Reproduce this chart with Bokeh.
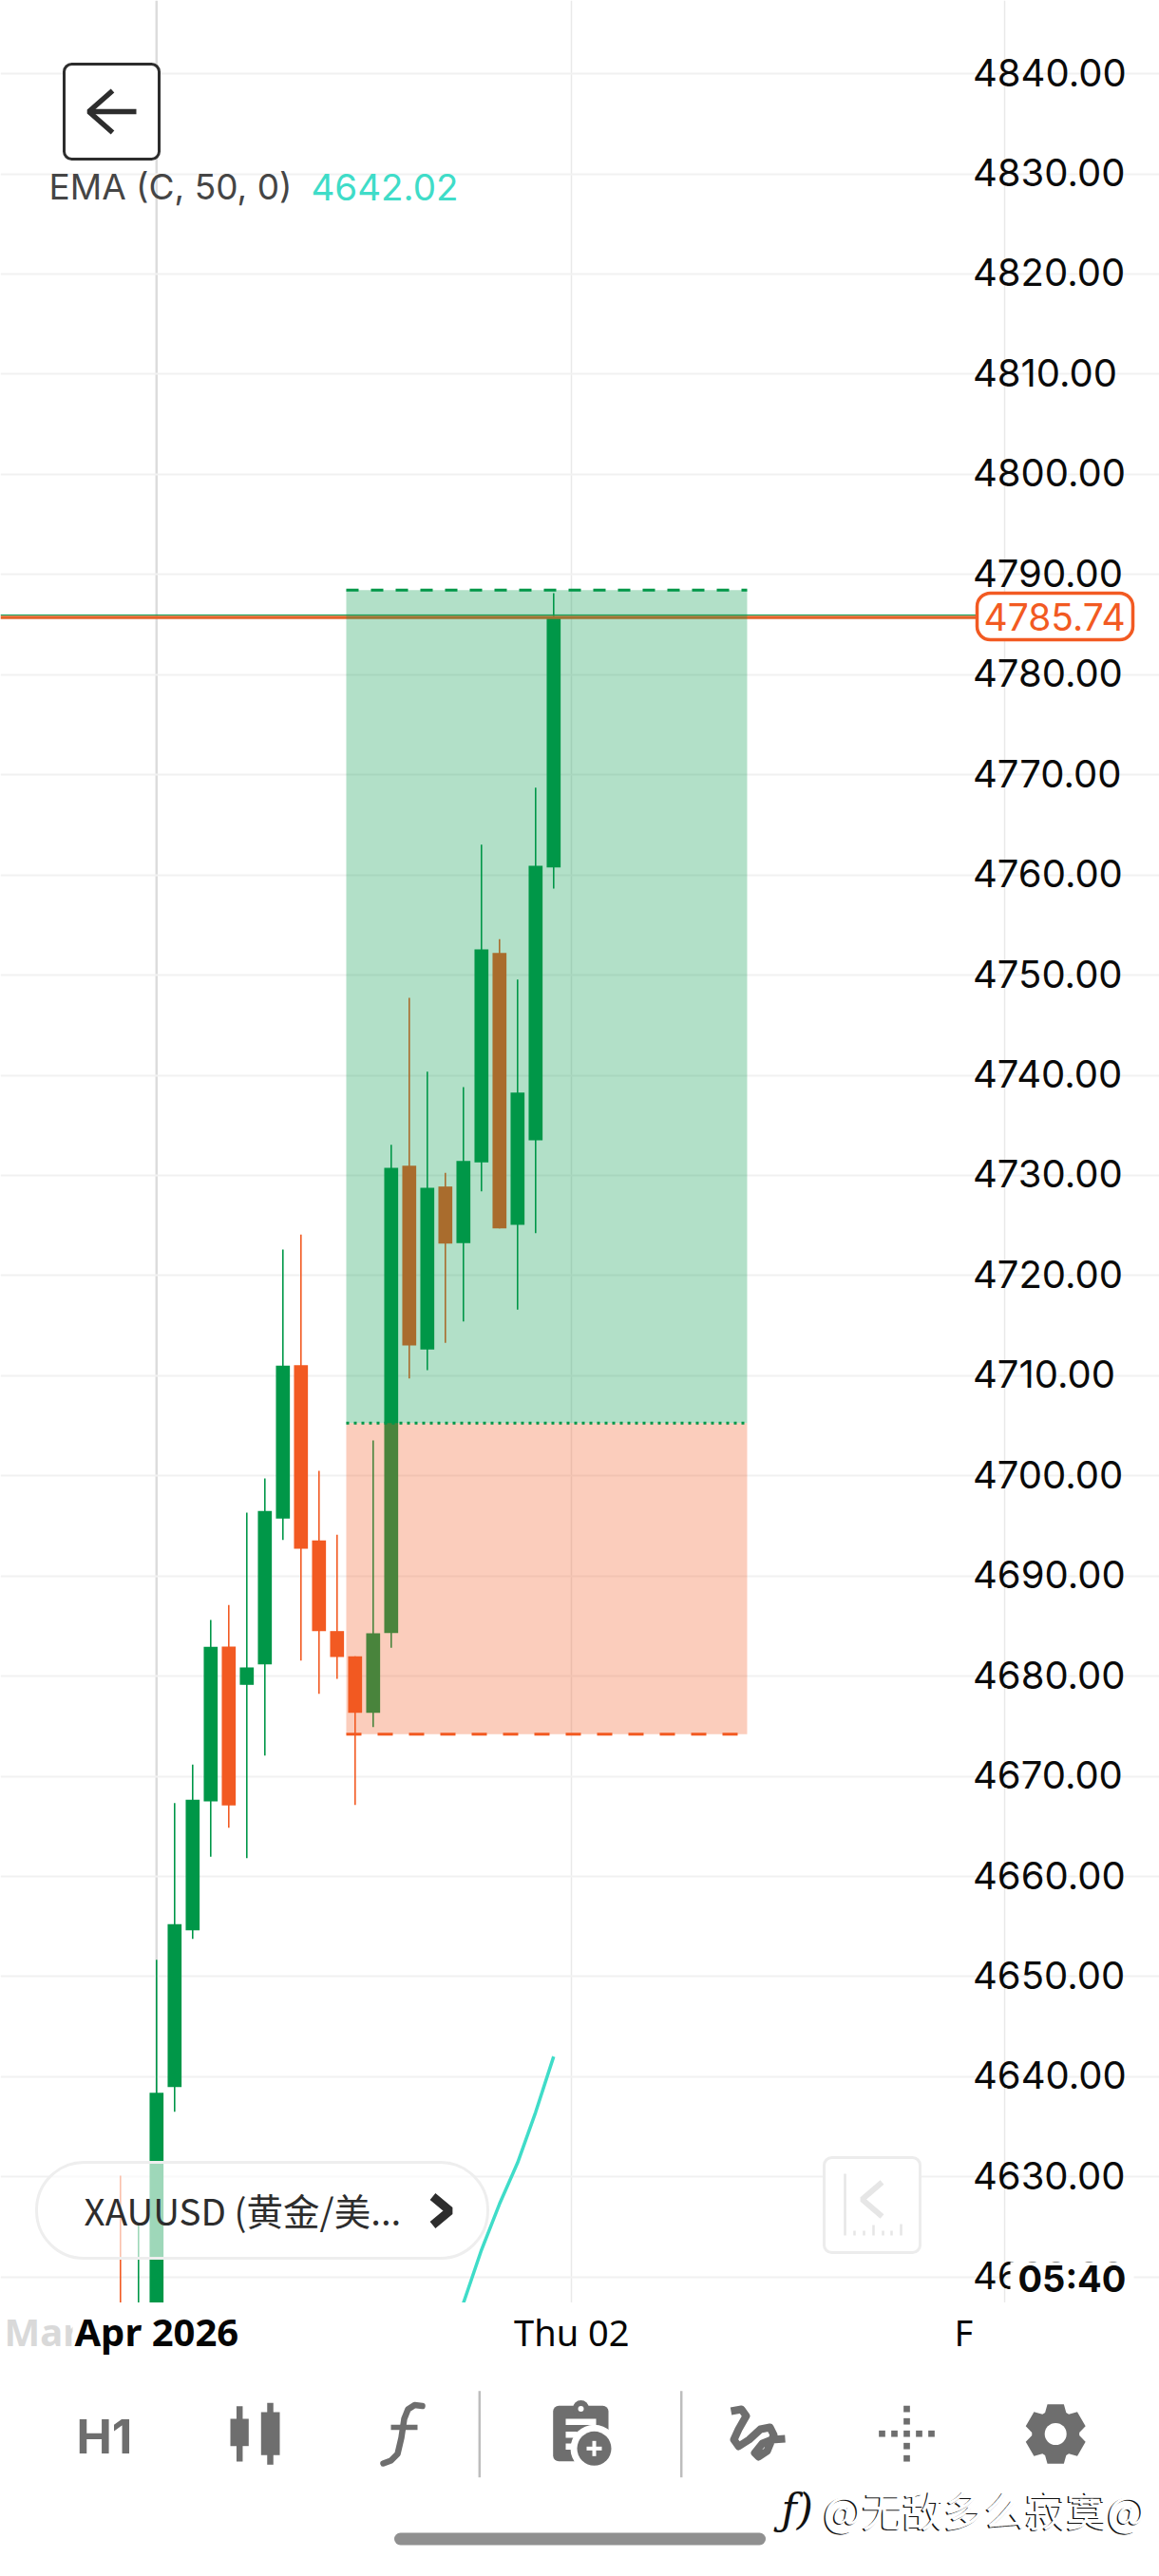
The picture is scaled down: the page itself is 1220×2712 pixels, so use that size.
from math import cos, sin, pi
from bokeh.plotting import figure
from bokeh.layouts import column
from bokeh.models import Range1d, FixedTicker, BoxAnnotation
from bokeh.core.properties import value
from bokeh.embed import file_html
from bokeh.resources import INLINE

# ---- data ----
bar_index = list(range(-2, 23))
top_price = [4614.0, 4614.5, 4638.41, 4655.23, 4667.66, 4682.92, 4682.95, 4680.87, 4696.49, 4711.00, 4711.05, 4693.55,
             4684.50, 4681.98, 4684.28, 4730.75, 4730.97, 4728.76, 4728.89, 4731.45, 4752.57, 4752.22, 4738.27, 4760.91, 4785.74]
bot_price = [4610.0, 4610.0, 4611.0, 4638.98, 4654.62, 4667.49, 4667.09, 4679.13, 4681.18, 4695.73, 4692.72, 4684.50,
             4681.91, 4676.34, 4676.34, 4684.31, 4713.02, 4712.61, 4723.19, 4723.23, 4731.29, 4724.71, 4725.06, 4733.50, 4760.75]
high_price = [4630.13, 4625.23, 4651.68, 4667.33, 4671.16, 4685.61, 4687.10, 4696.33, 4699.74, 4722.60, 4724.09, 4700.50,
              4694.12, 4681.98, 4703.53, 4733.06, 4747.73, 4740.36, 4730.25, 4738.82, 4763.03, 4753.58, 4749.56, 4768.72, 4788.13]
low_price = [4608.0, 4606.0, 4608.0, 4636.51, 4653.77, 4661.96, 4664.87, 4661.83, 4672.07, 4693.60, 4681.56, 4678.24,
             4679.73, 4667.14, 4674.92, 4682.83, 4709.73, 4710.55, 4713.27, 4715.42, 4728.41, 4724.71, 4716.59, 4724.24, 4758.64]
is_up = [False, True, True, True, True, True, False, True, True, True, False, False,
         False, False, True, True, False, True, False, True, True, False, True, True, True]
ema_index = [16, 17, 18, 19, 20, 21, 22]
ema_values = [4613.0, 4617.4, 4622.7, 4627.3, 4631.4, 4636.45, 4642.02]
y_ticks = [4620 + 10 * i for i in range(23)]
y_tick_labels = [f"{t:.2f}" for t in y_ticks]
day_ticks = [23, 47]
month_tick = 0
tp_price, entry_price, sl_price = 4788.44, 4705.27, 4674.20
zone_left, zone_right = 10.51, 32.72
last_price = 4785.74

GREEN, RED = "#009748", "#f25a22"
GREY = "#6e6e6e"


# page-pixel helpers for the app's interface chrome
def X(px):
    return (px - 164.3) / 19.0


def Y(py):
    return 4790 - (py - 604.3) / 10.544


FRAME_BOTTOM = 2424
PAGE_W, PAGE_H = 1220, 2712
p = figure(width=PAGE_W, height=FRAME_BOTTOM, output_backend="svg", toolbar_location=None,
           x_range=Range1d(X(0), X(PAGE_W)), y_range=Range1d(Y(FRAME_BOTTOM), Y(0)),
           min_border=0, outline_line_color=None, background_fill_color="white", border_fill_color="white")
p.xaxis.visible = False
p.yaxis.visible = False
p.ygrid.ticker = FixedTicker(ticks=y_ticks)
p.ygrid.grid_line_color = "#f1f1f1"
p.ygrid.grid_line_width = 2
p.xgrid.ticker = FixedTicker(ticks=day_ticks)
p.xgrid.grid_line_color = "#e9e9e9"
p.xgrid.grid_line_width = 1.5
p.segment(x0=[month_tick], x1=[month_tick], y0=[Y(FRAME_BOTTOM)], y1=[Y(0)], line_color="#dcdcdc", line_width=2.5, level="underlay")


def tx(fig, px, y, s, size, color, font="Inter", style="normal", align="left", level="overlay", base="middle"):
    return fig.text(x=[X(px)], y=[y], text=[s], text_font=value(font), text_font_size=f"{size}px",
                    text_font_style=style, text_color=color, text_align=align, text_baseline=base, level=level)


# axis label masks and labels
mh = 18 / 10.544
label_lift = 1.5 / 10.544
p.quad(left=[X(1020)] * len(y_ticks), right=[X(1188)] * len(y_ticks), top=[t + mh for t in y_ticks],
       bottom=[t - mh for t in y_ticks], fill_color="white", line_color=None, level="underlay")
p.text(x=[X(1023.5)] * len(y_ticks), y=[t + label_lift for t in y_ticks], text=y_tick_labels, text_font=value("Inter"),
       text_font_size="40px", text_color="#0a0a0a", text_baseline="middle", text_align="left")

# candles
colors = [GREEN if u else RED for u in is_up]
p.segment(x0=bar_index, x1=bar_index, y0=low_price, y1=high_price, line_color=colors, line_width=1.6)
p.vbar(x=bar_index, width=0.772, top=top_price, bottom=bot_price, fill_color=colors, line_color=None)

# EMA
p.line(ema_index, ema_values, line_color="#3fdcc8", line_width=3.5)

# last price lines
p.segment(x0=[X(0)], x1=[X(1030)], y0=[last_price + 0.22], y1=[last_price + 0.22], line_color=GREEN, line_width=1)
p.segment(x0=[X(0)], x1=[X(1030)], y0=[last_price - 0.03], y1=[last_price - 0.03], line_color="#e2652a", line_width=3.4)

# trade zones
p.quad(left=[zone_left], right=[zone_right], top=[tp_price], bottom=[entry_price], fill_color=GREEN, fill_alpha=0.3, line_color=None)
p.quad(left=[zone_left], right=[zone_right], top=[entry_price], bottom=[sl_price], fill_color=RED, fill_alpha=0.3, line_color=None)
p.line([zone_left, zone_right], [tp_price, tp_price], line_color=GREEN, line_width=3, line_dash="13 13")
p.line([zone_left, zone_right], [entry_price, entry_price], line_color=GREEN, line_width=3, line_dash="3 5")
p.line([zone_left, zone_right], [sl_price, sl_price], line_color=RED, line_width=3, line_dash="16 17")


def box(fig, l, r, t, b, fill, alpha, line, lw, radius):
    fig.add_layout(BoxAnnotation(left=X(l), right=X(r), top=t, bottom=b, fill_color=fill, fill_alpha=alpha,
                                 line_color=line, line_width=lw, line_alpha=1 if line else 0, border_radius=radius))


# back button
box(p, 67, 167, Y(67), Y(167), "white", 1, "#2d2d2d", 3, 8)
p.line([X(143), X(93)], [Y(117), Y(117)], line_color="#2d2d2d", line_width=5.5, level="overlay")
p.line([X(118), X(93), X(118)], [Y(95), Y(117), Y(139)], line_color="#2d2d2d", line_width=5.5, level="overlay")

# indicator legend
tx(p, 51, Y(196), "EMA (C, 50, 0)", 37, "#454545")
tx(p, 327, Y(196), "4642.02", 38.5, "#3fdcc8")

# last price tag
box(p, 1028, 1192, Y(624), Y(673), "white", 1, RED, 3.5, 14)
tx(p, 1035, Y(649), "4785.74", 39, RED)

# symbol pill
box(p, 38, 513, Y(2276), Y(2377), "white", 0.62, "#eeeeee", 3, 50)
tx(p, 88, Y(2325), "XAUUSD (黄金/美...", 38.5, "#2d2d2d", font="Noto Sans CJK SC")
p.line([X(455), X(473), X(455)], [Y(2312), Y(2327), Y(2342)], line_color="#2d2d2d", line_width=9, level="overlay")

# jump-to-latest button
box(p, 867, 968, Y(2271), Y(2371), "white", 1, "#ececec", 3, 8)
btn = "#e6e6e6"
p.line([X(889), X(889)], [Y(2288), Y(2353)], line_color=btn, line_width=2.5, level="overlay")
p.line([X(928), X(907), X(928)], [Y(2297), Y(2315), Y(2333)], line_color=btn, line_width=6, level="overlay")
for tick_x, tick_y in zip([899, 909, 919, 929, 938, 948], [2348, 2348, 2342, 2348, 2348, 2341]):
    p.line([X(tick_x), X(tick_x)], [Y(tick_y), Y(2353)], line_color=btn, line_width=2.5, level="overlay")

# countdown
p.quad(left=[X(1063)], right=[X(1193)], top=[Y(2381)], bottom=[Y(2416)], fill_color="white", line_color=None, level="overlay")
tx(p, 1071, Y(2398), "05:40", 38, "#0a0a0a", style="bold")

# ---- bottom strip: time labels and toolbar ----
q = figure(width=PAGE_W, height=PAGE_H - FRAME_BOTTOM, output_backend="svg", toolbar_location=None,
           x_range=p.x_range, y_range=Range1d(PAGE_H, FRAME_BOTTOM),
           min_border=0, outline_line_color=None, background_fill_color="white", border_fill_color="white")
q.xaxis.visible = False
q.yaxis.visible = False
q.grid.visible = False

LAB = "Noto Sans"
tx(q, 4, 2454, "Mar", 40, "#d9d9d9", font=LAB, style="bold")
q.quad(left=[X(76)], right=[X(260)], top=[2435], bottom=[2480], fill_color="white", line_color=None, level="overlay")
q.text(x=[month_tick], y=[2454], text=["Apr 2026"], text_font=value(LAB), text_font_size="40px", text_font_style="bold",
       text_color="#050505", text_align="center", text_baseline="middle", level="overlay")
q.text(x=[day_ticks[0]], y=[2454], text=["Thu 02"], text_font=value(LAB), text_font_size="38px",
       text_color="#050505", text_align="center", text_baseline="middle", level="overlay")
tx(q, 1004, 2454, "F", 38, "#050505", font=LAB)

# H1
tx(q, 80, 2564, "H1", 50, GREY, style="bold")

# candle icon
q.segment(x0=[X(251.7), X(284)], x1=[X(251.7), X(284)], y0=[2532.7, 2529.3], y1=[2591, 2594.3], line_color=GREY, line_width=6.5)
q.quad(left=[X(242), X(274.3)], right=[X(261.3), X(294)], top=[2546, 2539], bottom=[2574.7, 2584.3], fill_color=GREY, line_color=None)

# function icon
fx = [444, 436, 429, 425, 422, 418, 411, 403]
fy = [2532.5, 2531.5, 2536, 2546, 2566, 2583, 2590, 2593]
q.line([X(v) for v in fx], fy, line_color=GREY, line_width=6.5, line_join="round", line_cap="round")
q.line([X(411), X(439)], [2555, 2555], line_color=GREY, line_width=5.5)

# separators
for sx_ in (504.3, 716.7):
    q.line([X(sx_), X(sx_)], [2516.7, 2607.7], line_color="#bdbdbd", line_width=2.5)

# clipboard icon
box(q, 581.7, 640, 2532.3, 2590.7, GREY, 1, None, 0, 6)
q.scatter([X(611)], [2535], size=17, fill_color=GREY, line_color=None, level="overlay")
q.scatter([X(611)], [2535.5], size=6, fill_color="white", line_color=None, level="overlay")
q.quad(left=[X(595)] * 3, right=[X(627), X(607), X(603)], top=[2546, 2559.5, 2572], bottom=[2552.5, 2566, 2578.5],
       fill_color="white", line_color=None, level="overlay")
q.scatter([X(625)], [2577.3], size=50, fill_color="white", line_color=None, level="overlay")
q.scatter([X(625)], [2577.3], size=36, fill_color=GREY, line_color=None, level="overlay")
q.line([X(617), X(633)], [2577.3, 2577.3], line_color="white", line_width=4, level="overlay")
q.line([X(625), X(625)], [2569.3, 2585.3], line_color="white", line_width=4, level="overlay")

# scribble icon
sq_x = [769, 780, 785, 777, 772, 777, 788, 800, 810, 814, 807, 798, 794, 802, 812, 826]
sq_y = [2538, 2536, 2543, 2557, 2568, 2575, 2568, 2557, 2555, 2563, 2580, 2586, 2582, 2572, 2568, 2567]
q.line([X(v) for v in sq_x], sq_y, line_color=GREY, line_width=8, line_join="round")

# crosshair icon
cx_x = [954] * 5 + [928, 941, 967, 980]
cx_y = [2535.7, 2548.7, 2561.7, 2574.7, 2587.7] + [2561.7] * 4
q.scatter([X(v) for v in cx_x], cx_y, marker="square", size=6.7, fill_color=GREY, line_color=None)

# gear icon
gx, gy = [], []
for k in range(6):
    a = pi / 2 + k * pi / 3
    for da, r in ((-0.46, 25), (-0.27, 32.5), (0.27, 32.5), (0.46, 25)):
        gx.append(X(1110.7 + r * cos(a + da)))
        gy.append(2562 + r * sin(a + da))
q.patch(gx, gy, fill_color=GREY, line_color=None)
q.scatter([X(1110.7)], [2562], size=23, fill_color="white", line_color=None)

# watermark
tx(q, 822, 2641, "ƒ)", 44, "#111111", font="DejaVu Serif", style="italic")
tx(q, 864.5, 2641, "@无敌多么寂寞@", 43, "#111111", font="Noto Sans CJK SC")
tx(q, 866, 2640, "@无敌多么寂寞@", 43, "#ffffff", font="Noto Sans CJK SC")

# home indicator
q.line([X(421), X(799)], [2672.5, 2672.5], line_color="#909090", line_width=13, line_cap="round")

layout = column(p, q, spacing=0)
open("out.html", "w").write(file_html(layout, INLINE))
